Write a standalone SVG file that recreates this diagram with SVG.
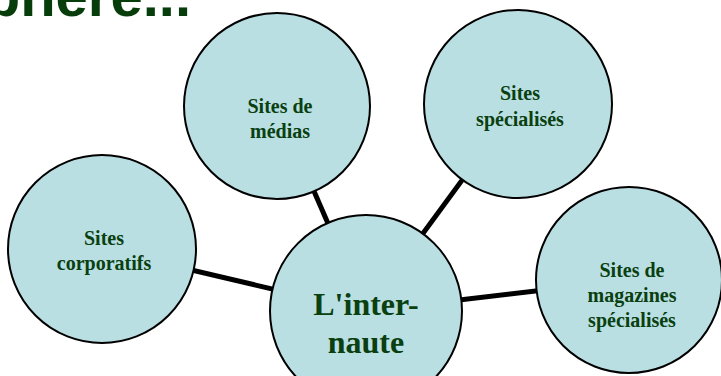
<svg xmlns="http://www.w3.org/2000/svg" width="721" height="376" viewBox="0 0 721 376">
<style>
.n{fill:#b9dfe3;stroke:#000;stroke-width:2}
.t{font-family:"Liberation Serif","Times New Roman",serif;font-weight:bold;fill:#0a4010;text-anchor:middle;font-size:20px}
.big{font-size:32px}
.c{stroke:#000;stroke-width:5;fill:none}
.title{font-family:"Liberation Sans",Arial,sans-serif;font-weight:bold;font-size:58px;fill:#063d0a;text-anchor:end}
</style>
<rect width="721" height="376" fill="#fff"/>
<text class="title" x="191" y="16">sphère...</text>
<g id="connectors">
<line class="c" x1="102" y1="249" x2="366" y2="311"/>
<line class="c" x1="277" y1="106" x2="366" y2="311"/>
<line class="c" x1="518" y1="104" x2="366" y2="311"/>
<line class="c" x1="629" y1="280" x2="366" y2="311"/>
</g>
<g id="corporatifs">
<circle class="n" cx="102" cy="249" r="94"/>
<text class="t" x="104" y="245">Sites</text>
<text class="t" x="104" y="270">corporatifs</text>
</g>
<g id="medias">
<circle class="n" cx="277" cy="106" r="93"/>
<text class="t" x="280" y="113">Sites de</text>
<text class="t" x="280" y="138">médias</text>
</g>
<g id="specialises">
<circle class="n" cx="518" cy="104" r="94"/>
<text class="t" x="520" y="100">Sites</text>
<text class="t" x="520" y="126">spécialisés</text>
</g>
<g id="magazines">
<circle class="n" cx="629" cy="280" r="93"/>
<text class="t" x="632" y="277">Sites de</text>
<text class="t" x="632" y="302">magazines</text>
<text class="t" x="632" y="327">spécialisés</text>
</g>
<g id="internaute">
<circle class="n" cx="366" cy="311" r="96"/>
<text class="t big" x="366" y="315">L'inter-</text>
<text class="t big" x="366" y="353">naute</text>
</g>
</svg>
